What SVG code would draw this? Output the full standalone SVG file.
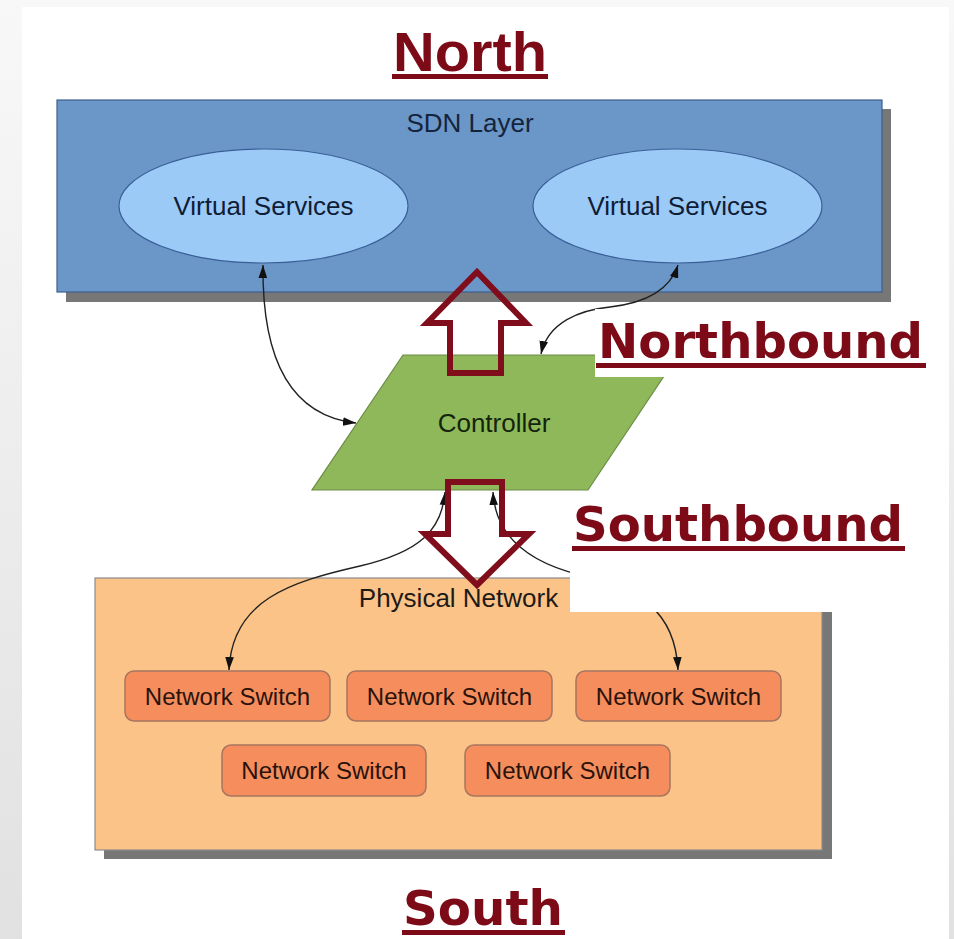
<svg xmlns="http://www.w3.org/2000/svg" width="954" height="939" viewBox="0 0 954 939">
  <style>
    .lbl { font-family: "Liberation Sans", Arial, sans-serif; font-size: 26px; text-anchor: middle; }
    .sw rect { fill: #f58d5c; stroke: #a87560; stroke-width: 1.5; }
    .sw text { font-family: "Liberation Sans", Arial, sans-serif; font-size: 24px; text-anchor: middle; fill: #2a130c; }
    .vs ellipse { fill: #9ccaf6; stroke: #3a5f98; stroke-width: 1.2; }
    .vs text { fill: #0f1d36; }
    .title { font-family: "DejaVu Sans", Verdana, sans-serif; font-weight: bold; font-size: 48px; fill: #7d0a17; }
    .ul { fill: #7d0a17; }
    .conn path { fill: none; stroke: #222; stroke-width: 1.4; }
    .block { fill: none; stroke: #800d1c; stroke-width: 6; stroke-linejoin: miter; }
  </style>
  <defs>
    <linearGradient id="bgL" x1="0" y1="0" x2="0" y2="1">
      <stop offset="0" stop-color="#f8f8f8"/>
      <stop offset="1" stop-color="#e1e1e1"/>
    </linearGradient>
    <marker id="ah" viewBox="0 0 12 8" refX="12" refY="4" markerWidth="13" markerHeight="9" markerUnits="userSpaceOnUse" orient="auto-start-reverse">
      <path d="M0,0 L12,4 L0,8 Z" fill="#111"/>
    </marker>
  </defs>

  <!-- background -->
  <rect x="0" y="0" width="954" height="939" fill="url(#bgL)"/>
  <rect x="22" y="7" width="927" height="932" fill="#ffffff"/>

  <!-- SDN layer -->
  <g id="sdn-layer">
    <rect x="66" y="109" width="825" height="193" fill="#777777"/>
    <rect x="57" y="100" width="825" height="192" fill="#6b96c8" stroke="#3c5f8f" stroke-width="1.2"/>
    <text class="lbl" x="470" y="132" fill="#14243c">SDN Layer</text>
  </g>
  <g id="vs1" class="vs">
    <ellipse cx="263.5" cy="206" rx="144.5" ry="57"/>
    <text class="lbl" x="263.5" y="215">Virtual Services</text>
  </g>
  <g id="vs2" class="vs">
    <ellipse cx="677.5" cy="206" rx="144.5" ry="57"/>
    <text class="lbl" x="677.5" y="215">Virtual Services</text>
  </g>

  <!-- Physical network -->
  <g id="physical-network">
    <rect x="104" y="587" width="728" height="272" fill="#777777"/>
    <rect x="95" y="578" width="727" height="272" fill="#fbc388" stroke="#8c8c8c" stroke-width="1.2"/>
    <text class="lbl" x="458.5" y="607" fill="#1e1a16">Physical Network</text>
  </g>
  <g id="sw1" class="sw"><rect x="125" y="671" width="205" height="50" rx="9"/><text x="227.5" y="705">Network Switch</text></g>
  <g id="sw2" class="sw"><rect x="347" y="671" width="205" height="50" rx="9"/><text x="449.5" y="705">Network Switch</text></g>
  <g id="sw3" class="sw"><rect x="576" y="671" width="205" height="50" rx="9"/><text x="678.5" y="705">Network Switch</text></g>
  <g id="sw4" class="sw"><rect x="222" y="745" width="204" height="51" rx="9"/><text x="324" y="779">Network Switch</text></g>
  <g id="sw5" class="sw"><rect x="465" y="745" width="205" height="51" rx="9"/><text x="567.5" y="779">Network Switch</text></g>

  <!-- Controller -->
  <g id="controller">
    <polygon points="403,355 678,355 588,490 312,490" fill="#8fb85a" stroke="#6b8b45" stroke-width="1.2"/>
    <text class="lbl" x="494" y="432" fill="#14240c">Controller</text>
  </g>

  <!-- connectors -->
  <g id="connectors" class="conn">
    <path d="M263,265 C262,350 285,415 356,423" marker-start="url(#ah)" marker-end="url(#ah)"/>
    <path d="M678,265 C670,290 645,303 610,307 C580,310 548,322 541,354" marker-start="url(#ah)" marker-end="url(#ah)"/>
    <path d="M445,492 C442,530 420,552 360,566 C290,582 232,600 229,670" marker-start="url(#ah)" marker-end="url(#ah)"/>
    <path d="M493,492 C495,530 520,560 580,575 C640,590 675,610 678,670" marker-start="url(#ah)" marker-end="url(#ah)"/>
  </g>

  <!-- label backgrounds -->
  <rect x="595" y="309" width="340" height="68" fill="#ffffff"/>
  <rect x="570" y="495" width="345" height="117" fill="#ffffff"/>

  <!-- block arrows -->
  <g id="northbound-arrow">
    <path class="block" d="M477,272 L526,323 L501,323 L501,373 L450,373 L450,323 L427,323 Z"/>
  </g>
  <g id="southbound-arrow">
    <path class="block" d="M448,482 L502,482 L502,534 L529,534 L477,585 L425,534 L448,534 Z"/>
  </g>

  <!-- titles -->
  <g id="north">
    <text x="470" y="71" text-anchor="middle" font-family="'Liberation Sans', Arial, sans-serif" font-weight="bold" font-size="56" fill="#7d0a17" textLength="154" lengthAdjust="spacingAndGlyphs">North</text>
    <rect class="ul" x="392" y="74" width="156" height="5"/>
  </g>
  <g id="northbound">
    <text class="title" x="598" y="358" textLength="325" lengthAdjust="spacingAndGlyphs">Northbound</text>
    <rect class="ul" x="596" y="363" width="330" height="5"/>
  </g>
  <g id="southbound">
    <text class="title" x="573" y="541" textLength="330" lengthAdjust="spacingAndGlyphs">Southbound</text>
    <rect class="ul" x="572" y="546" width="333" height="5"/>
  </g>
  <g id="south">
    <text class="title" x="403" y="925" textLength="160" lengthAdjust="spacingAndGlyphs">South</text>
    <rect class="ul" x="402" y="930" width="163" height="5"/>
  </g>
</svg>
